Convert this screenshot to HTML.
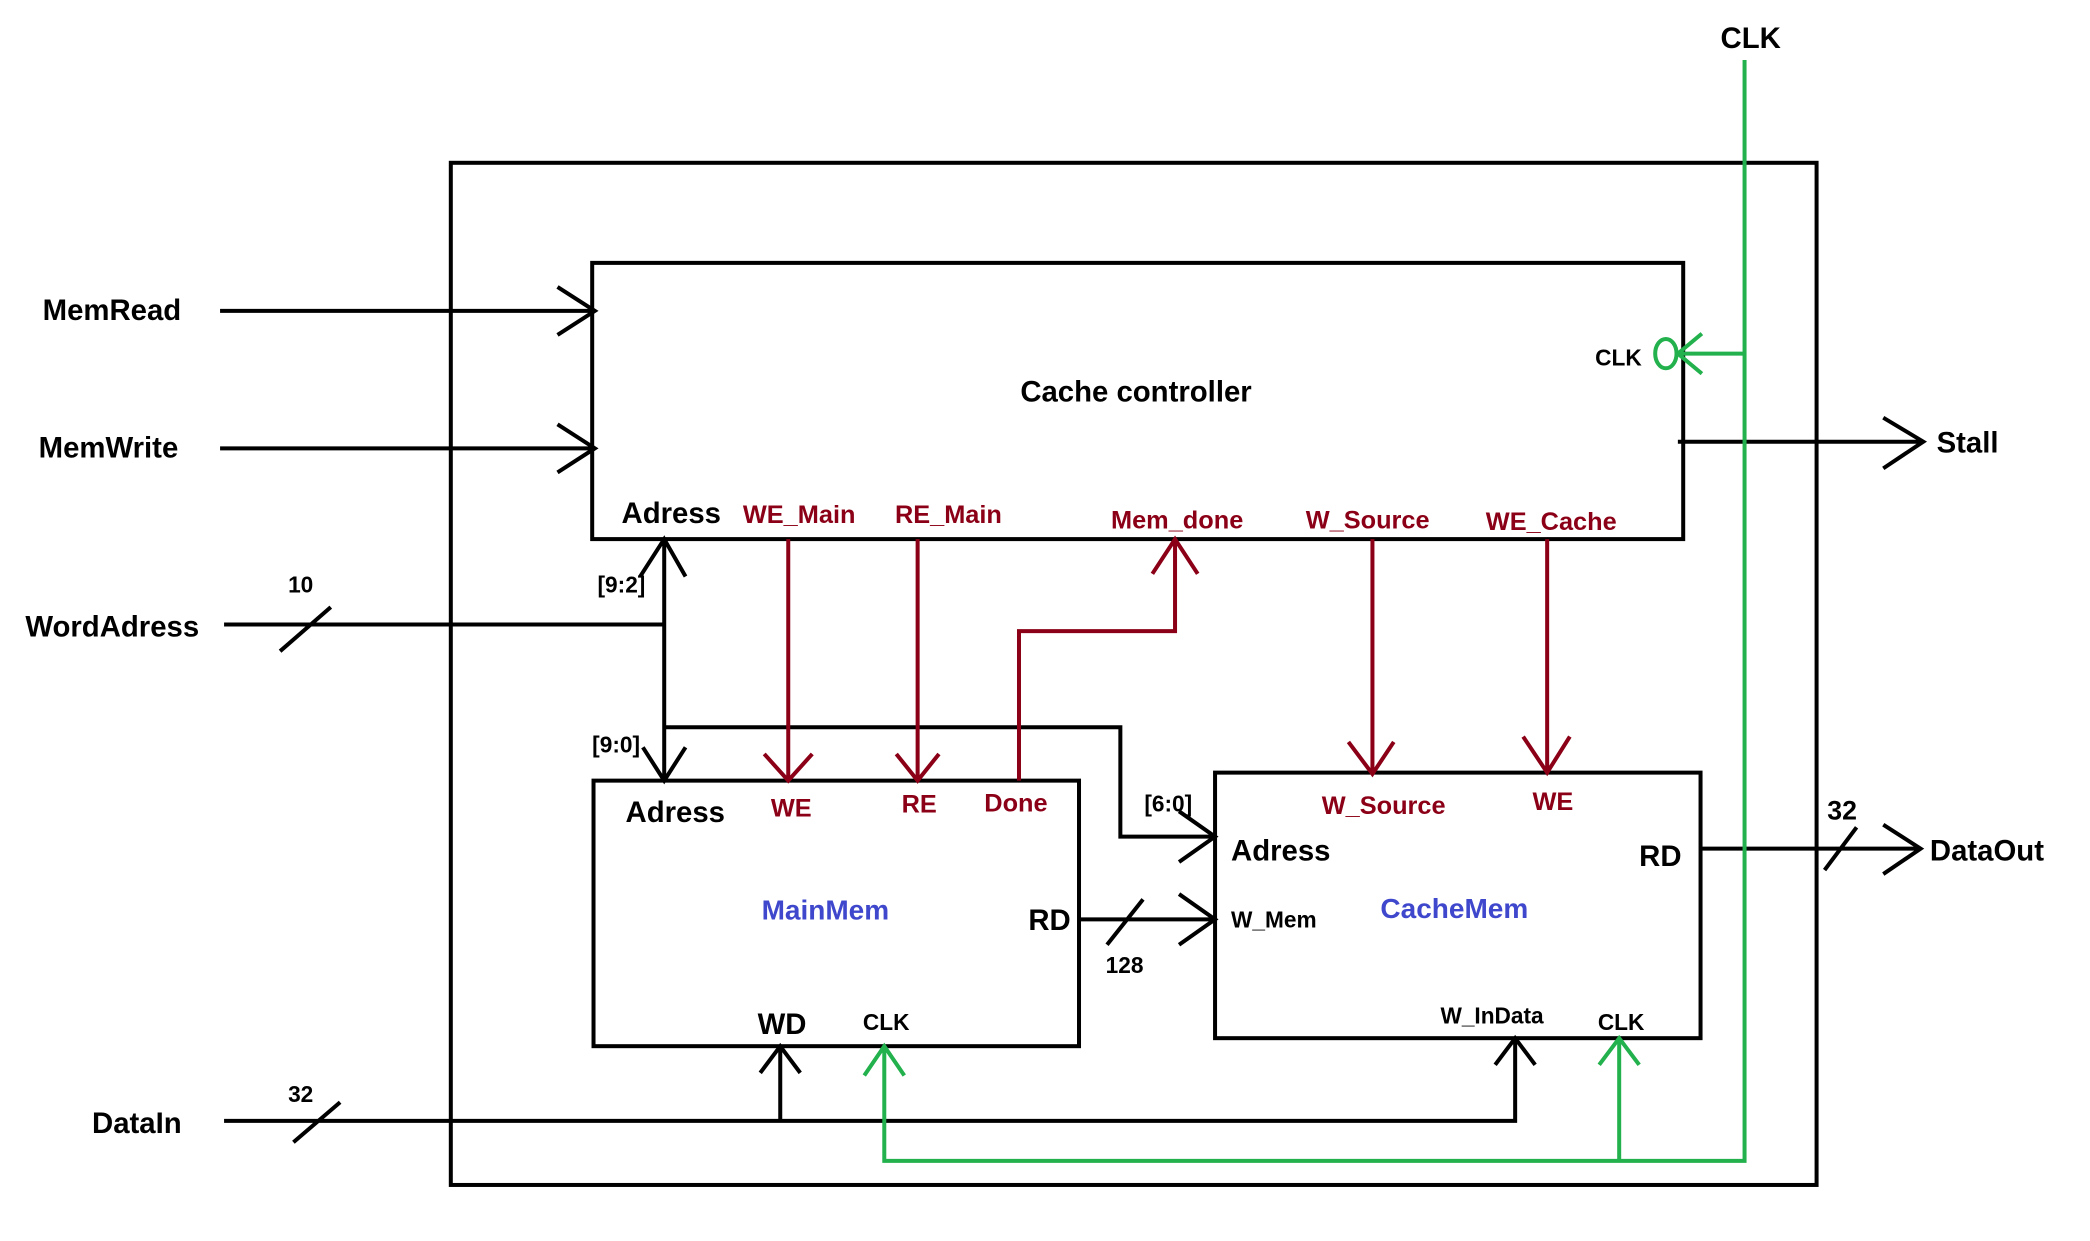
<!DOCTYPE html>
<html><head><style>html,body{margin:0;padding:0;background:#fff}svg{display:block}</style></head>
<body>
<svg width="2090" height="1241" viewBox="0 0 1567 930" preserveAspectRatio="none" xmlns="http://www.w3.org/2000/svg" font-family="Liberation Sans, sans-serif" font-weight="bold">
<g fill="none" stroke="#000" stroke-width="3">
<rect x="338" y="122" width="1024" height="766"/>
<rect x="444" y="197" width="818" height="207"/>
<rect x="445" y="585" width="364" height="199"/>
<rect x="911" y="579" width="364" height="199"/>
<path d="M165 233H446M418 215L446 233L418 251"/>
<path d="M165 336H446M418 318L446 336L418 354"/>
<path d="M1258 331H1442M1412 313L1442 331L1412 351"/>
<path d="M168 468H498V585M498 404V468M480 432L498 404L514 432M482 560L498 585L514 560M210 488L248 455"/>
<path d="M498 545H840V627H911M884 608L911 627L884 646"/>
<path d="M809 689H911M884 670L911 689L884 708M830 708L857 674"/>
<path d="M1275 636H1440M1412 618L1440 636L1412 655M1368 652L1392 620"/>
<path d="M168 840H1136V778M585 840V784M570 804L585 784L600 804M1121 798L1136 778L1151 798M220 856L255 826"/>
</g>
<g fill="none" stroke="#8b0016" stroke-width="3">
<path d="M591 404V585M573 565L591 585L609 565"/>
<path d="M688 404V585M672 565L688 585L704 565"/>
<path d="M764 585V473H881V404M864 430L881 404L898 430"/>
<path d="M1029 404V580M1011 556L1029 580L1045 556"/>
<path d="M1160 404V579M1142 552L1160 579L1177 552"/>
</g>
<g fill="none" stroke="#22b14c" stroke-width="3">
<path d="M1308 45V870H663V784M648 806L663 784L678 806M1214 870V778M1199 798L1214 778L1229 798"/>
<path d="M1308 265H1258M1276 250L1258 265L1276 280"/>
<ellipse cx="1249" cy="265" rx="8" ry="11"/>
</g>
<g font-size="22" fill="#000">
<text x="32" y="240">MemRead</text>
<text x="29" y="343">MemWrite</text>
<text x="19" y="477">WordAdress</text>
<text x="69" y="849">DataIn</text>
<text x="1290" y="36">CLK</text>
<text x="1452" y="339">Stall</text>
<text x="1447" y="645">DataOut</text>
<text x="765" y="301">Cache controller</text>
<text x="466" y="392">Adress</text>
<text x="469" y="616">Adress</text>
<text x="923" y="645">Adress</text>
<text x="1229" y="649">RD</text>
<text x="771" y="697">RD</text>
<text x="568" y="775">WD</text>
</g>
<g font-size="17" fill="#000">
<text x="216" y="444">10</text>
<text x="448" y="444">[9:2]</text>
<text x="444" y="564">[9:0]</text>
<text x="858" y="608">[6:0]</text>
<text x="829" y="729">128</text>
<text x="216" y="826">32</text>
<text x="1370" y="614" font-size="20">32</text>
<text x="1196" y="274">CLK</text>
<text x="647" y="772">CLK</text>
<text x="1198" y="772">CLK</text>
<text x="923" y="695">W_Mem</text>
<text x="1080" y="767">W_InData</text>
</g>
<g font-size="19" fill="#8b0016">
<text x="557" y="392">WE_Main</text>
<text x="671" y="392">RE_Main</text>
<text x="833" y="396">Mem_done</text>
<text x="979" y="396">W_Source</text>
<text x="1114" y="397">WE_Cache</text>
<text x="578" y="612">WE</text>
<text x="676" y="609">RE</text>
<text x="738" y="608">Done</text>
<text x="991" y="610">W_Source</text>
<text x="1149" y="607">WE</text>
</g>
<g font-size="21" fill="#3f48cc">
<text x="571" y="689">MainMem</text>
<text x="1035" y="688">CacheMem</text>
</g>
</svg>
</body></html>
